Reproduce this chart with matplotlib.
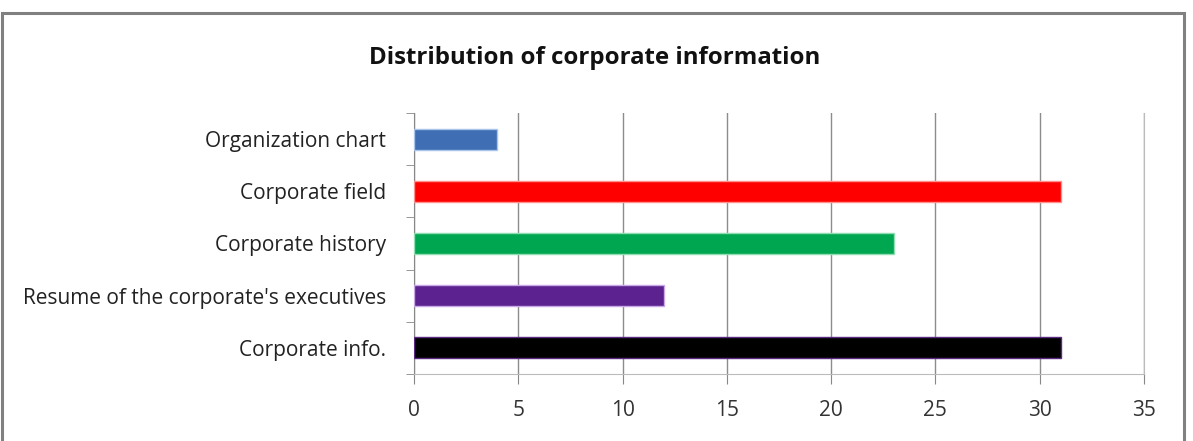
import matplotlib.pyplot as plt
from matplotlib.patches import Rectangle

categories = ["Corporate info.", "Resume of the corporate's executives",
              "Corporate history", "Corporate field", "Organization chart"]
values = [31, 12, 23, 31, 4]
colors = ["#000000", "#5B2290", "#00A650", "#FF0000", "#3F6EB5"]
edges = ["#5B2A80", "#C9A8E6", "#8FDDB0", "#FF9090", "#A8C4E8"]
xticks = [0, 5, 10, 15, 20, 25, 30, 35]
title = "Distribution of corporate information"

W, H = 1193, 441
fig = plt.figure(figsize=(W / 100, H / 100), dpi=100)
plt.rcParams['font.family'] = ['Open Sans', 'DejaVu Sans']

ax = fig.add_axes([414 / W, 1 - 374 / H, (1144 - 414) / W, (374 - 113) / H])
ypos = list(range(len(categories)))
ax.barh(ypos, values, height=0.4, color=colors, edgecolor=edges, linewidth=1, zorder=3)
ax.set_ylim(-0.5, len(categories) - 0.5)
ax.set_xlim(0, 35)
ax.set_xticks(xticks)
ax.set_xticklabels([str(t) for t in xticks], fontsize=15, color="#333333")
ax.set_yticks(ypos)
ax.set_yticklabels(categories, fontsize=15, color="#222222")
ax.tick_params(axis='y', length=0, pad=20)
ax.tick_params(axis='x', length=7, direction='out', color="#888888", pad=12)
ax.set_yticks([i - 0.5 for i in range(len(categories) + 1)], minor=True)
ax.tick_params(axis='y', which='minor', length=6, color="#888888", direction='out')
ax.grid(axis='x', color="#8c8c8c", linewidth=1, zorder=0)
ax.spines['top'].set_visible(False)
ax.spines['right'].set_color("#bbbbbb")
ax.spines['left'].set_color("#888888")
ax.spines['bottom'].set_color("#bbbbbb")

fig.text(595 / W, 1 - 58 / H, title, ha='center', va='center', fontsize=17.3,
         fontweight='bold', color="#111111")

fig.patches.append(Rectangle((1.5 / W, -0.1), (1184 - 1.5) / W, 1.1 - 13.5 / H,
                             transform=fig.transFigure, fill=False,
                             edgecolor="#808080", linewidth=2.2))

fig.savefig("out.png", dpi=100)
